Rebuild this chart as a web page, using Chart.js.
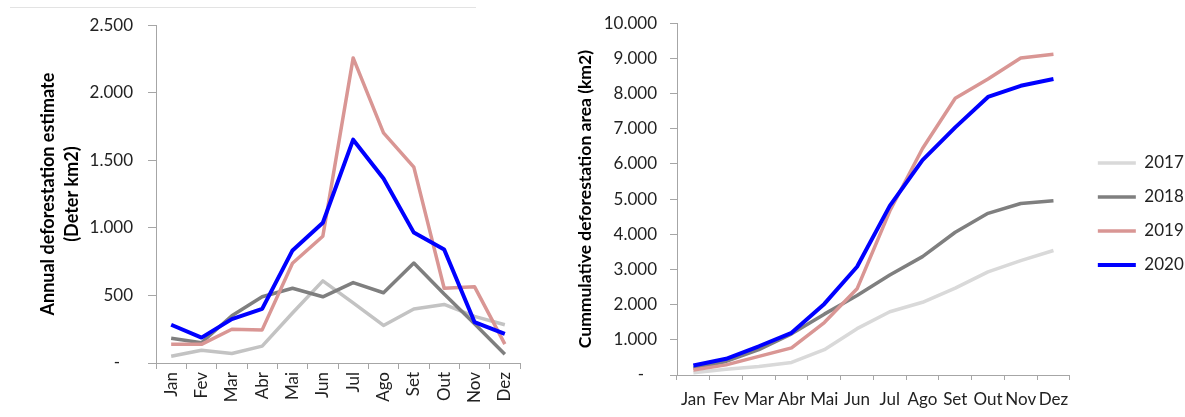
<!DOCTYPE html>
<html>
<head>
<meta charset="utf-8">
<script src="https://cdn.jsdelivr.net/npm/chart.js@4/dist/chart.umd.min.js"></script>
<style>
  body { margin: 0; background: #fff; }
  #wrap { position: relative; width: 1185px; height: 417px; }
  #rule { position: absolute; left: 10px; top: 7px; width: 466px; height: 1px; background: #e3e3e3; }
  #cMes { position: absolute; left: 0; top: 0; }
  #cAcum { position: absolute; left: 560px; top: 0; }
</style>
</head>
<body>
<div id="wrap">
  <div id="rule"></div>
  <canvas id="cMes" width="550" height="417"></canvas>
  <canvas id="cAcum" width="625" height="417"></canvas>
</div>
<script>
// meses
const meses = ['Jan', 'Fev', 'Mar', 'Abr', 'Mai', 'Jun', 'Jul', 'Ago', 'Set', 'Out', 'Nov', 'Dez'];
const anos = ['2017', '2018', '2019', '2020'];

// desmatamento mensal (Deter km2)
const mensal2017 = [50, 95, 70, 125, 370, 608, 445, 278, 400, 433, 345, 283];
const mensal2018 = [183, 150, 350, 490, 553, 490, 595, 520, 740, 510, 290, 65];
const mensal2019 = [138, 138, 250, 245, 738, 938, 2258, 1703, 1450, 553, 565, 140];
const mensal2020 = [283, 188, 325, 400, 833, 1038, 1653, 1365, 965, 840, 303, 215];

// area acumulada (km2)
const acum2017 = [67, 163, 240, 356, 720, 1317, 1798, 2067, 2471, 2933, 3250, 3538];
const acum2018 = [190, 385, 720, 1170, 1730, 2260, 2840, 3365, 4058, 4596, 4875, 4952];
const acum2019 = [144, 288, 530, 770, 1490, 2450, 4660, 6440, 7865, 8413, 9010, 9115];
const acum2020 = [270, 460, 817, 1200, 2020, 3077, 4808, 6106, 7038, 7904, 8221, 8413];

const coresEsq = ['#c3c3c3', '#7f7f7f', '#d99694', '#0000ff'];
const coresDir = ['#d9d9d9', '#7f7f7f', '#d99694', '#0000ff'];

Chart.defaults.font.family = 'Lato';
Chart.defaults.color = '#222';

// 2.500 / - no zero
function fmt(v) {
  if (v === 0) return '-   ';
  return String(v).replace(/\B(?=(\d{3})+(?!\d))/g, '.');
}

function linha(label, data, cor, ordem) {
  return {
    label: label,
    data: data,
    borderColor: cor,
    backgroundColor: cor,
    borderWidth: cor === '#0000ff' ? 4 : 3.5,
    pointRadius: 0,
    pointStyle: 'line',
    tension: 0,
    borderJoinStyle: 'round',
    order: ordem
  };
}

const eixoCor = '#a6a6a6';

// Gráfico mensal
new Chart(document.getElementById('cMes').getContext('2d'), {
  type: 'line',
  data: {
    labels: meses,
    datasets: [
      linha(anos[0], mensal2017, coresEsq[0], 3),
      linha(anos[1], mensal2018, coresEsq[1], 2),
      linha(anos[2], mensal2019, coresEsq[2], 1),
      linha(anos[3], mensal2020, coresEsq[3], 0)
    ]
  },
  options: {
    responsive: false,
    animation: false,
    layout: { padding: { top: 18.8, right: 30, bottom: 0, left: 0 } },
    plugins: { legend: { display: false }, tooltip: { enabled: false } },
    scales: {
      x: {
        offset: true,
        grid: { offset: true, drawOnChartArea: false, color: eixoCor, tickLength: 6 },
        border: { color: eixoCor },
        ticks: { minRotation: 90, maxRotation: 90, autoSkip: false, padding: 3, font: { size: 17 } },
        afterFit: s => { s.height = 54; }
      },
      y: {
        min: 0,
        max: 2500,
        grid: { drawOnChartArea: false, color: eixoCor, tickLength: 8 },
        border: { color: eixoCor },
        ticks: { stepSize: 500, padding: 15, font: { size: 17 }, callback: v => fmt(v) },
        title: {
          display: true,
          text: ['Annual deforestation estimate', '(Deter km2)'],
          font: { size: 18, weight: 'bold', lineHeight: 1.35 },
          color: '#000',
          padding: { top: 36, bottom: 0 }
        },
        afterFit: s => { s.width = 156; }
      }
    }
  }
});

// Gráfico acumulado
new Chart(document.getElementById('cAcum').getContext('2d'), {
  type: 'line',
  data: {
    labels: meses,
    datasets: [
      linha(anos[0], acum2017, coresDir[0], 3),
      linha(anos[1], acum2018, coresDir[1], 2),
      linha(anos[2], acum2019, coresDir[2], 1),
      linha(anos[3], acum2020, coresDir[3], 0)
    ]
  },
  options: {
    responsive: false,
    animation: false,
    layout: { padding: { top: 17.8, right: 0, bottom: 6.8, left: 0 } },
    plugins: {
      tooltip: { enabled: false },
      legend: {
        position: 'right',
        labels: {
          usePointStyle: true,
          pointStyleWidth: 38,
          padding: 17,
          color: '#222',
          font: { size: 17 },
          sort: (a, b) => a.datasetIndex - b.datasetIndex
        }
      }
    },
    scales: {
      x: {
        offset: true,
        grid: { offset: true, drawOnChartArea: false, color: eixoCor, tickLength: 5 },
        border: { color: eixoCor },
        ticks: { maxRotation: 0, autoSkip: false, padding: 9, font: { size: 17 } },
        afterFit: s => { s.height = 35.2; }
      },
      y: {
        min: 0,
        max: 10000,
        grid: { drawOnChartArea: false, color: eixoCor, tickLength: 7 },
        border: { color: eixoCor },
        ticks: { stepSize: 1000, padding: 13, font: { size: 17 }, callback: v => fmt(v) },
        title: {
          display: true,
          text: 'Cummulative deforestation area (km2)',
          font: { size: 17.5, weight: 'bold', lineHeight: 1.2 },
          color: '#000',
          padding: { top: 14.5, bottom: 0 }
        },
        afterFit: s => { s.width = 117; }
      },
      // espaço entre o gráfico e a legenda
      gap: {
        position: 'right',
        display: true,
        grid: { display: false },
        border: { display: false },
        ticks: { display: false },
        afterFit: s => { s.width = 11; }
      }
    }
  }
});
</script>
</body>
</html>
